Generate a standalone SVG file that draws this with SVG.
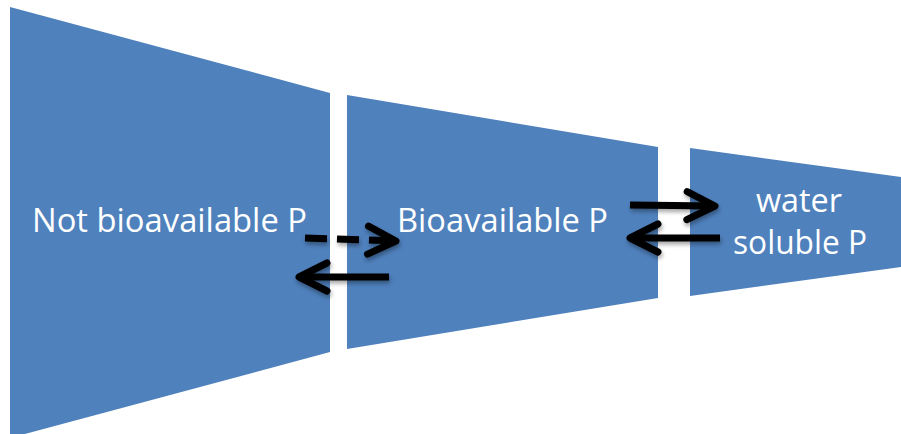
<svg xmlns="http://www.w3.org/2000/svg" width="901" height="434" viewBox="0 0 901 434">
<style>
.shape{fill:#4F81BD;}
.lbl{fill:#FFFFFF;font-family:"Open Sans","Liberation Sans",sans-serif;font-size:32px;}
.arr{fill:none;stroke:#000;stroke-width:7;}
</style>
<defs>
<filter id="sh" filterUnits="userSpaceOnUse" x="0" y="0" width="901" height="434">
<feGaussianBlur in="SourceAlpha" stdDeviation="2"/>
<feOffset dx="1" dy="3" result="b"/>
<feComponentTransfer><feFuncA type="linear" slope="0.35"/></feComponentTransfer>
<feMerge><feMergeNode/><feMergeNode in="SourceGraphic"/></feMerge>
</filter>
<marker id="head" markerUnits="userSpaceOnUse" viewBox="-36 -20 40 40" refX="0" refY="0" markerWidth="40" markerHeight="40" orient="auto">
<path d="M-28,-14 L0,0 L-28,14" fill="none" stroke="#000" stroke-width="7" stroke-linecap="round" stroke-linejoin="round"/>
</marker>
</defs>
<g id="node-not-bioavailable">
<polygon class="shape" points="10,7 330,93 330,352 10,438"/>
<text class="lbl" x="32" y="232" textLength="275" lengthAdjust="spacingAndGlyphs">Not bioavailable P</text>
</g>
<g id="node-bioavailable">
<polygon class="shape" points="347,95 658,147 658,298 347,349"/>
<text class="lbl" x="397" y="232" textLength="211" lengthAdjust="spacingAndGlyphs">Bioavailable P</text>
</g>
<g id="node-water-soluble">
<polygon class="shape" points="690,148 901,177 901,267 690,296"/>
<text class="lbl" x="756" y="212" textLength="86" lengthAdjust="spacingAndGlyphs">water</text>
<text class="lbl" x="733" y="254" textLength="134" lengthAdjust="spacingAndGlyphs">soluble P</text>
</g>
<g id="connectors" filter="url(#sh)">
<path class="arr" d="M305,238 L396,241" stroke-dasharray="22,10" marker-end="url(#head)"/>
<path class="arr" d="M389,277 L299,277" marker-end="url(#head)"/>
<path class="arr" d="M630,205 L715,206" marker-end="url(#head)"/>
<path class="arr" d="M720,238 L630,238" marker-end="url(#head)"/>
</g>
</svg>
